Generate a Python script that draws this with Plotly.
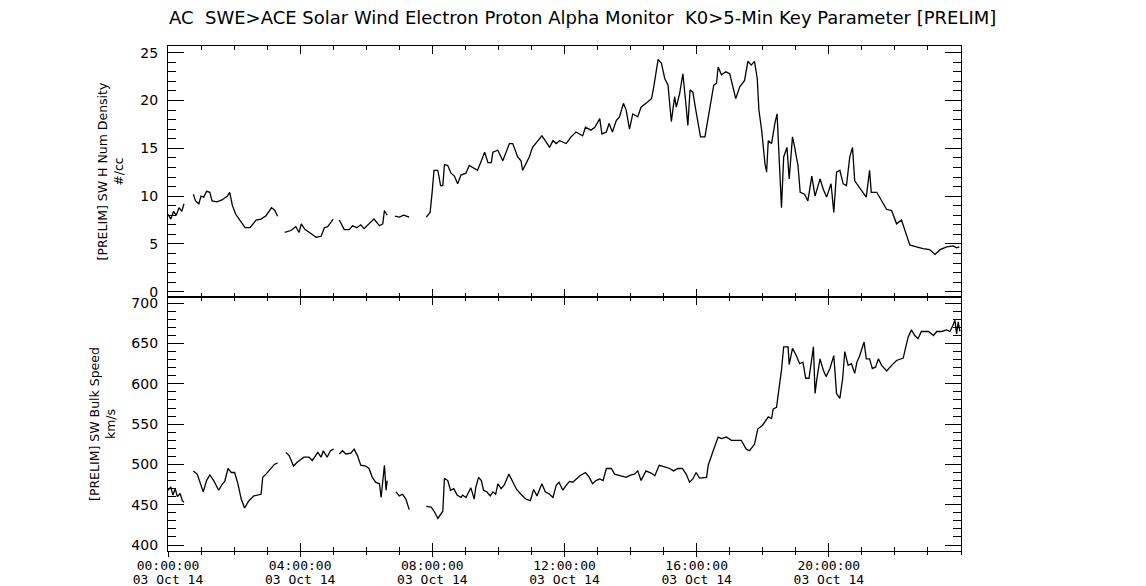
import plotly.graph_objects as go
from plotly.subplots import make_subplots

DAY = "2014-10-03 "

density_times = [
    "00:00", "00:05", "00:10", "00:15", "00:20", "00:25", "00:29", "00:37",
    "00:46", "00:50", "00:56", "01:00", "01:05", "01:10", "01:16", "01:20", "01:29", "01:38",
    "01:48", "01:52", "01:57", "02:03", "02:12", "02:20", "02:29", "02:40", "02:49", "02:58",
    "03:08", "03:14", "03:19", "03:25",
    "03:32", "03:43", "03:52", "03:58", "04:02", "04:09", "04:17", "04:29", "04:38", "04:44",
    "04:50", "04:56", "05:00", "05:05",
    "05:11", "05:20", "05:29", "05:35", "05:43", "05:50", "05:56", "06:05", "06:14", "06:24",
    "06:30", "06:33", "06:38", "06:45",
    "06:52", "07:00", "07:08", "07:18", "07:30",
    "07:49", "07:56", "08:00", "08:03", "08:10", "08:15", "08:19", "08:22", "08:28", "08:34",
    "08:40", "08:46", "08:52", "09:01", "09:07", "09:16", "09:22", "09:29", "09:35", "09:41",
    "09:47", "09:50", "09:59", "10:08", "10:20", "10:26", "10:35", "10:41", "10:44", "10:50",
    "10:56", "11:02", "11:11", "11:19", "11:25", "11:33", "11:39", "11:45", "11:51", "12:03",
    "12:12", "12:21", "12:27", "12:33", "12:38", "12:48", "12:55", "13:04", "13:08", "13:16",
    "13:21", "13:27", "13:34", "13:40", "13:47", "13:52", "13:58", "14:04", "14:13", "14:19",
    "14:28", "14:38", "14:42", "14:50", "14:56", "15:02", "15:08", "15:14", "15:20", "15:23",
    "15:29", "15:35", "15:41", "15:44", "15:48", "15:53", "15:59", "16:07", "16:15", "16:21",
    "16:27", "16:31", "16:36", "16:39", "16:45", "16:53", "17:00", "17:06", "17:11", "17:18",
    "17:27", "17:33", "17:39", "17:45", "17:50", "17:53", "17:58", "18:04", "18:07", "18:10",
    "18:16", "18:22", "18:26", "18:30", "18:34", "18:38", "18:44", "18:48", "18:54", "18:58",
    "19:04", "19:08", "19:16", "19:22", "19:29", "19:35", "19:44", "19:50", "19:56", "20:04",
    "20:09", "20:14", "20:20", "20:26", "20:32", "20:38", "20:43", "20:47", "20:53", "21:02",
    "21:08", "21:14", "21:17", "21:27", "21:36", "21:45", "21:54", "22:03", "22:12", "22:21",
    "22:27", "22:39", "22:51", "23:03", "23:13", "23:22", "23:34", "23:46", "23:52", "23:57",
]
density_values = [
    8.1, 7.6, 8.4, 8.0, 8.8, 8.4, 9.2, None,
    10.2, 9.5, 9.2, 10.0, 9.9, 10.5, 10.4, 9.5, 9.4, 9.6,
    10.0, 10.4, 9.0, 8.1, 7.35, 6.7, 6.7, 7.5, 7.6, 7.95,
    8.8, 8.5, 7.9, None,
    6.2, 6.4, 6.8, 6.2, 7.1, 6.5, 6.2, 5.7, 5.8, 6.7,
    6.8, 7.25, 7.6, None,
    7.5, 6.5, 6.5, 6.9, 6.7, 7.0, 6.6, 7.1, 7.6, 6.9,
    7.1, 8.5, 8.0, None,
    7.9, 7.8, 8.0, 7.8, None,
    7.8, 8.3, 10.6, 12.7, 12.7, 11.1, 11.1, 13.3, 13.2, 12.4,
    12.1, 11.3, 12.2, 12.4, 13.2, 12.9, 12.7, 13.7, 14.6, 13.5,
    13.5, 14.6, 14.8, 13.7, 15.5, 15.5, 14.1, 13.7, 12.7, 13.4,
    14.1, 15.1, 15.8, 16.3, 15.8, 15.1, 15.8, 15.5, 15.8, 15.5,
    16.2, 16.7, 16.5, 16.3, 17.2, 16.9, 17.2, 18.1, 16.5, 16.7,
    17.6, 16.7, 17.9, 18.3, 19.7, 19.0, 17.0, 18.6, 18.3, 19.3,
    19.7, 20.2, 21.4, 24.3, 23.9, 22.3, 21.6, 17.8, 20.4, 19.3,
    20.7, 22.8, 19.3, 17.4, 21.1, 20.9, 18.8, 16.2, 16.2, 18.3,
    20.0, 21.6, 21.8, 23.5, 22.7, 23.0, 22.8, 21.3, 20.2, 21.4,
    22.1, 24.1, 23.7, 24.1, 22.3, 19.0, 16.9, 13.4, 12.5, 15.8,
    15.5, 17.6, 18.6, 13.7, 8.8, 14.1, 15.1, 11.8, 16.2, 15.1,
    13.2, 10.4, 10.2, 9.5, 12.1, 10.0, 11.8, 10.7, 9.9, 11.3,
    8.3, 12.5, 12.7, 11.3, 11.1, 14.1, 15.1, 11.6, 11.1, 10.4,
    9.9, 12.7, 10.4, 10.4, 9.5, 8.6, 8.5, 7.1, 7.5, 6.0,
    4.9, 4.7, 4.5, 4.4, 3.9, 4.4, 4.7, 4.8, 4.6, 4.7,
]

speed_times = [
    "00:00", "00:05", "00:09", "00:13", "00:17", "00:22", "00:26", "00:29", "00:37",
    "00:46", "00:53", "00:59", "01:04", "01:10", "01:16", "01:23", "01:32", "01:39", "01:43",
    "01:49", "01:55", "02:01", "02:07", "02:13", "02:19", "02:27", "02:36", "02:49", "02:52",
    "02:58", "03:07", "03:13", "03:19", "03:26",
    "03:34", "03:40", "03:48", "03:55", "04:07", "04:16", "04:22", "04:32", "04:38", "04:42",
    "04:49", "04:55", "05:01", "05:06",
    "05:11", "05:17", "05:23", "05:32", "05:38", "05:44", "05:50", "05:59", "06:05", "06:11",
    "06:17", "06:24", "06:27", "06:30", "06:33", "06:36", "06:38", "06:46",
    "06:54", "07:00", "07:06", "07:12", "07:18", "07:33",
    "07:49", "07:58", "08:04", "08:10", "08:19", "08:22", "08:28", "08:33", "08:39", "08:45",
    "08:52", "08:55", "09:01", "09:07", "09:10", "09:16", "09:19", "09:24", "09:29", "09:33",
    "09:39", "09:45", "09:50", "09:55", "09:59", "10:05", "10:11", "10:19", "10:26", "10:33",
    "10:41", "10:50", "10:58", "11:04", "11:10", "11:19", "11:25", "11:33", "11:39", "11:45",
    "11:50", "11:57", "12:03", "12:09", "12:15", "12:22", "12:28", "12:38", "12:45", "12:51",
    "12:57", "13:04", "13:10", "13:16", "13:25", "13:31", "13:40", "13:52", "14:01", "14:07",
    "14:13", "14:19", "14:28", "14:38", "14:44", "14:52", "15:02", "15:11", "15:18", "15:26",
    "15:34", "15:41", "15:47", "15:53", "15:59", "16:05", "16:18", "16:21", "16:30", "16:39",
    "16:45", "16:54", "17:03", "17:12", "17:21", "17:30", "17:36", "17:45", "17:51", "18:00",
    "18:10", "18:16", "18:19", "18:25", "18:30", "18:34", "18:38", "18:46", "18:48", "18:54",
    "19:01", "19:07", "19:13", "19:18", "19:24", "19:29", "19:32", "19:35", "19:38", "19:44",
    "19:50", "19:55", "20:02", "20:09", "20:14", "20:20", "20:25", "20:29", "20:35", "20:41",
    "20:47", "20:51", "20:56", "21:04", "21:08", "21:14", "21:19", "21:25", "21:30", "21:36",
    "21:45", "21:54", "22:03", "22:15", "22:20", "22:24", "22:30", "22:36", "22:42", "22:48",
    "23:01", "23:10", "23:16", "23:25", "23:34", "23:40", "23:45", "23:49", "23:52", "23:55",
    "23:58",
]
speed_values = [
    468, 472, 462, 470, 460, 464, 455, 453, None,
    492, 488, 476, 466, 480, 487, 480, 468, 476, 479,
    495, 490, 490, 476, 457, 446, 455, 461, 463, 484,
    488, 495, 500, 502, None,
    515, 511, 498, 503, 509, 509, 505, 515, 509, 517,
    509, 517, 519, None,
    513, 517, 513, 514, 519, 511, 499, 498, 495, 484,
    478, 476, 459, 480, 499, 468, 480, None,
    466, 461, 463, 457, 444, None,
    448, 447, 441, 433, 442, 483, 480, 468, 470, 462,
    459, 462, 459, 468, 471, 457, 472, 484, 480, 468,
    466, 461, 466, 463, 476, 470, 475, 488, 478, 469,
    463, 457, 455, 469, 461, 476, 466, 463, 459, 474,
    478, 468, 474, 479, 478, 482, 486, 490, 484, 476,
    480, 482, 480, 495, 495, 488, 486, 484, 487, 488,
    492, 480, 492, 489, 486, 499, 497, 495, 492, 495,
    495, 488, 478, 482, 490, 483, 484, 499, 517, 534,
    532, 534, 530, 530, 530, 519, 517, 525, 544, 549,
    559, 557, 569, 571, 596, 617, 646, 646, 624, 644,
    635, 625, 627, 607, 607, 631, 646, 588, 605, 631,
    617, 609, 619, 635, 588, 582, 606, 640, 623, 625,
    613, 627, 635, 652, 631, 631, 619, 621, 631, 623,
    616, 623, 629, 632, 648, 658, 667, 660, 656, 665,
    665, 660, 665, 665, 667, 665, 672, 679, 662, 677,
    665,
]

tick_hours = ["00:00", "04:00", "08:00", "12:00", "16:00", "20:00"]
tick_time_labels = [h + ":00" for h in tick_hours]
tick_date_labels = ["03 Oct 14"] * len(tick_hours)

title_text = ("AC  SWE>ACE Solar Wind Electron Proton Alpha Monitor  "
              "K0>5-Min Key Parameter [PRELIM]")
density_label = "[PRELIM] SW H Num Density<br>#/cc"
speed_label = "[PRELIM] SW Bulk Speed<br>km/s"

FONT = "DejaVu Sans"
XFONT = "DejaVu Sans Mono"
YTICK_SIZE = 14
XTICK_SIZE = 13

fig = make_subplots(rows=2, cols=1, shared_xaxes=True, vertical_spacing=0)

fig.add_trace(go.Scatter(x=[DAY + t for t in density_times], y=density_values,
                         mode="lines", line=dict(color="black", width=1.3),
                         connectgaps=False, showlegend=False), row=1, col=1)
fig.add_trace(go.Scatter(x=[DAY + t for t in speed_times], y=speed_values,
                         mode="lines", line=dict(color="black", width=1.3),
                         connectgaps=False, showlegend=False), row=2, col=1)
# invisible helper trace for the overlay axis carrying the date line + outward tick halves
fig.add_trace(go.Scatter(x=[DAY + speed_times[0]], y=[speed_values[0]], mode="markers",
                         marker=dict(opacity=0), xaxis="x3", yaxis="y2",
                         showlegend=False, hoverinfo="skip"))

W, H = 1146, 586
L, R, T, B = 168, 185, 46, 35
plot_w = W - L - R
plot_h = H - T - B
split = 254 / plot_h

x_range = [DAY + "00:00", "2014-10-04 00:00"]
tickvals = [DAY + h for h in tick_hours]

xaxis_common = dict(
    type="date", range=x_range, automargin=False,
    showline=True, linecolor="black", linewidth=1.3, mirror="ticks",
    ticks="inside", ticklen=8, tickwidth=1.3, tickcolor="black",
    tickmode="array", tickvals=tickvals, ticktext=tick_time_labels,
    minor=dict(tickmode="linear", tick0=DAY + "00:00", dtick=3600000,
               ticks="inside", ticklen=4, tickwidth=1.2, tickcolor="black"),
    showgrid=False, zeroline=False,
    tickfont=dict(family=XFONT, size=XTICK_SIZE, color="black"),
)
fig.update_xaxes(**xaxis_common)
fig.update_xaxes(ticklabelstandoff=2, row=2, col=1)

fig.update_layout(xaxis3=dict(
    type="date", range=x_range, automargin=False, overlaying="x2", anchor="y2",
    side="bottom", showline=False, showgrid=False, zeroline=False,
    ticks="outside", ticklen=5, tickwidth=1.3, tickcolor="black",
    tickmode="array", tickvals=tickvals, ticktext=tick_date_labels,
    minor=dict(tickmode="linear", tick0=DAY + "00:00", dtick=3600000,
               ticks="outside", ticklen=3, tickwidth=1.2, tickcolor="black"),
    ticklabelstandoff=11,
    tickfont=dict(family=XFONT, size=XTICK_SIZE, color="black"),
))

yaxis_common = dict(
    automargin=False,
    showline=True, linecolor="black", linewidth=1.3, mirror="ticks",
    ticks="inside", ticklen=16, tickwidth=1.3, tickcolor="black",
    showgrid=False, zeroline=False,
    tickfont=dict(family=FONT, size=YTICK_SIZE, color="black"),
    ticklabelstandoff=6,
)
fig.update_yaxes(**yaxis_common)
fig.update_yaxes(range=[-0.55, 25.7], tickmode="linear", tick0=0, dtick=5,
                 minor=dict(tickmode="linear", tick0=0, dtick=1, ticks="inside",
                            ticklen=8, tickwidth=1.2, tickcolor="black"),
                 domain=[split, 1], row=1, col=1)
fig.update_yaxes(range=[392.6, 707.8], tickmode="linear", tick0=400, dtick=50,
                 minor=dict(tickmode="linear", tick0=400, dtick=10, ticks="inside",
                            ticklen=8, tickwidth=1.2, tickcolor="black"),
                 domain=[0, split], row=2, col=1)

fig.add_annotation(text=title_text, xref="paper", yref="paper",
                   x=(582 - L) / plot_w, y=1 + (T - 18) / plot_h,
                   xanchor="center", yanchor="middle", showarrow=False,
                   font=dict(family=FONT, size=18, color="black"))
fig.add_annotation(text=density_label, xref="paper", yref="paper",
                   x=(110 - L) / plot_w, y=split + (1 - split) / 2,
                   xanchor="center", yanchor="middle", textangle=-90, showarrow=False,
                   font=dict(family=FONT, size=12.5, color="black"))
fig.add_annotation(text=speed_label, xref="paper", yref="paper",
                   x=(102 - L) / plot_w, y=split / 2,
                   xanchor="center", yanchor="middle", textangle=-90, showarrow=False,
                   font=dict(family=FONT, size=12.5, color="black"))

fig.update_layout(
    width=W, height=H,
    margin=dict(l=L, r=R, t=T, b=B, autoexpand=False),
    paper_bgcolor="white", plot_bgcolor="white",
    showlegend=False,
)

fig.write_html("out.html")
